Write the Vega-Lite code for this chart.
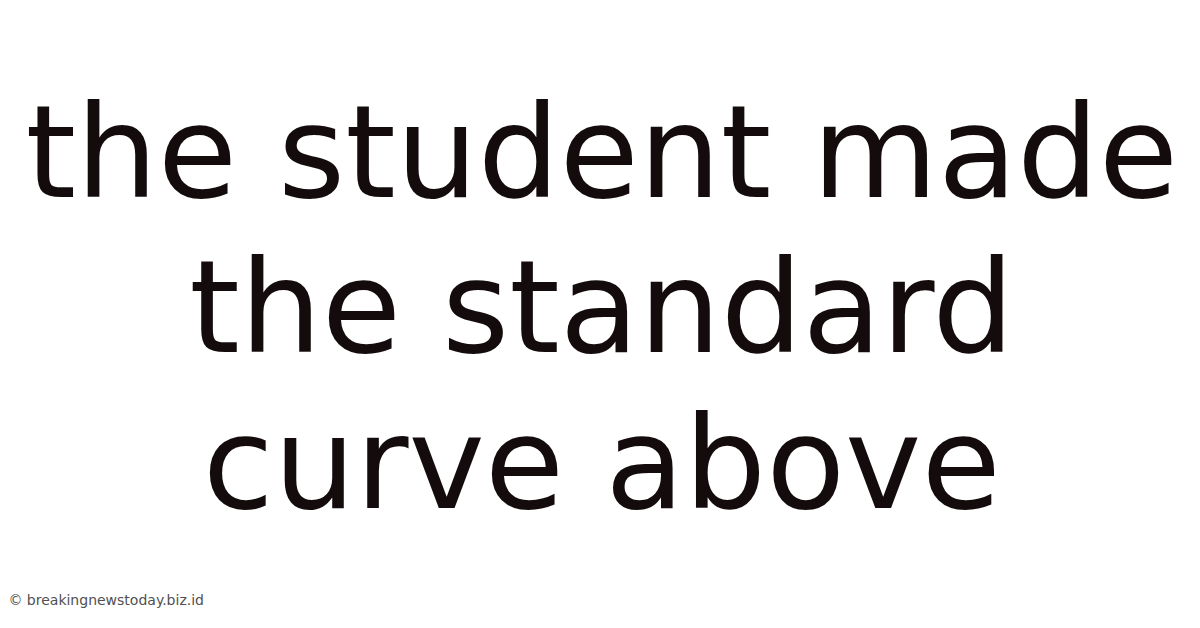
{
  "$schema": "https://vega.github.io/schema/vega-lite/v6.json",
  "width": 1200,
  "height": 628,
  "autosize": {"type": "fit", "contains": "padding"},
  "padding": 0,
  "background": "#ffffff",
  "config": {"view": {"stroke": null}},
  "datasets": {
    "title": [
      {"text": "the student made", "col": 0.5015, "row": 1},
      {"text": "the standard", "col": 0.5015, "row": 2},
      {"text": "curve above", "col": 0.5015, "row": 3}
    ],
    "mark": [
      {"text": "© breakingnewstoday.biz.id", "col": 0.007, "row": 3.624}
    ]
  },
  "layer": [
    {
      "data": {"name": "title"},
      "mark": {"type": "text", "font": "DejaVu Sans", "fontSize": 129, "color": "#140c0c", "align": "center", "baseline": "alphabetic"},
      "encoding": {
        "x": {"field": "col", "type": "quantitative", "scale": {"domain": [0, 1]}, "axis": null},
        "y": {"field": "row", "type": "quantitative", "scale": {"domain": [-0.267, 3.772], "reverse": true}, "axis": null},
        "text": {"field": "text"}
      }
    },
    {
      "data": {"name": "mark"},
      "mark": {"type": "text", "font": "DejaVu Sans", "fontSize": 14, "color": "#505050", "align": "left", "baseline": "alphabetic"},
      "encoding": {
        "x": {"field": "col", "type": "quantitative", "scale": {"domain": [0, 1]}, "axis": null},
        "y": {"field": "row", "type": "quantitative", "scale": {"domain": [-0.267, 3.772], "reverse": true}, "axis": null},
        "text": {"field": "text"}
      }
    }
  ]
}
